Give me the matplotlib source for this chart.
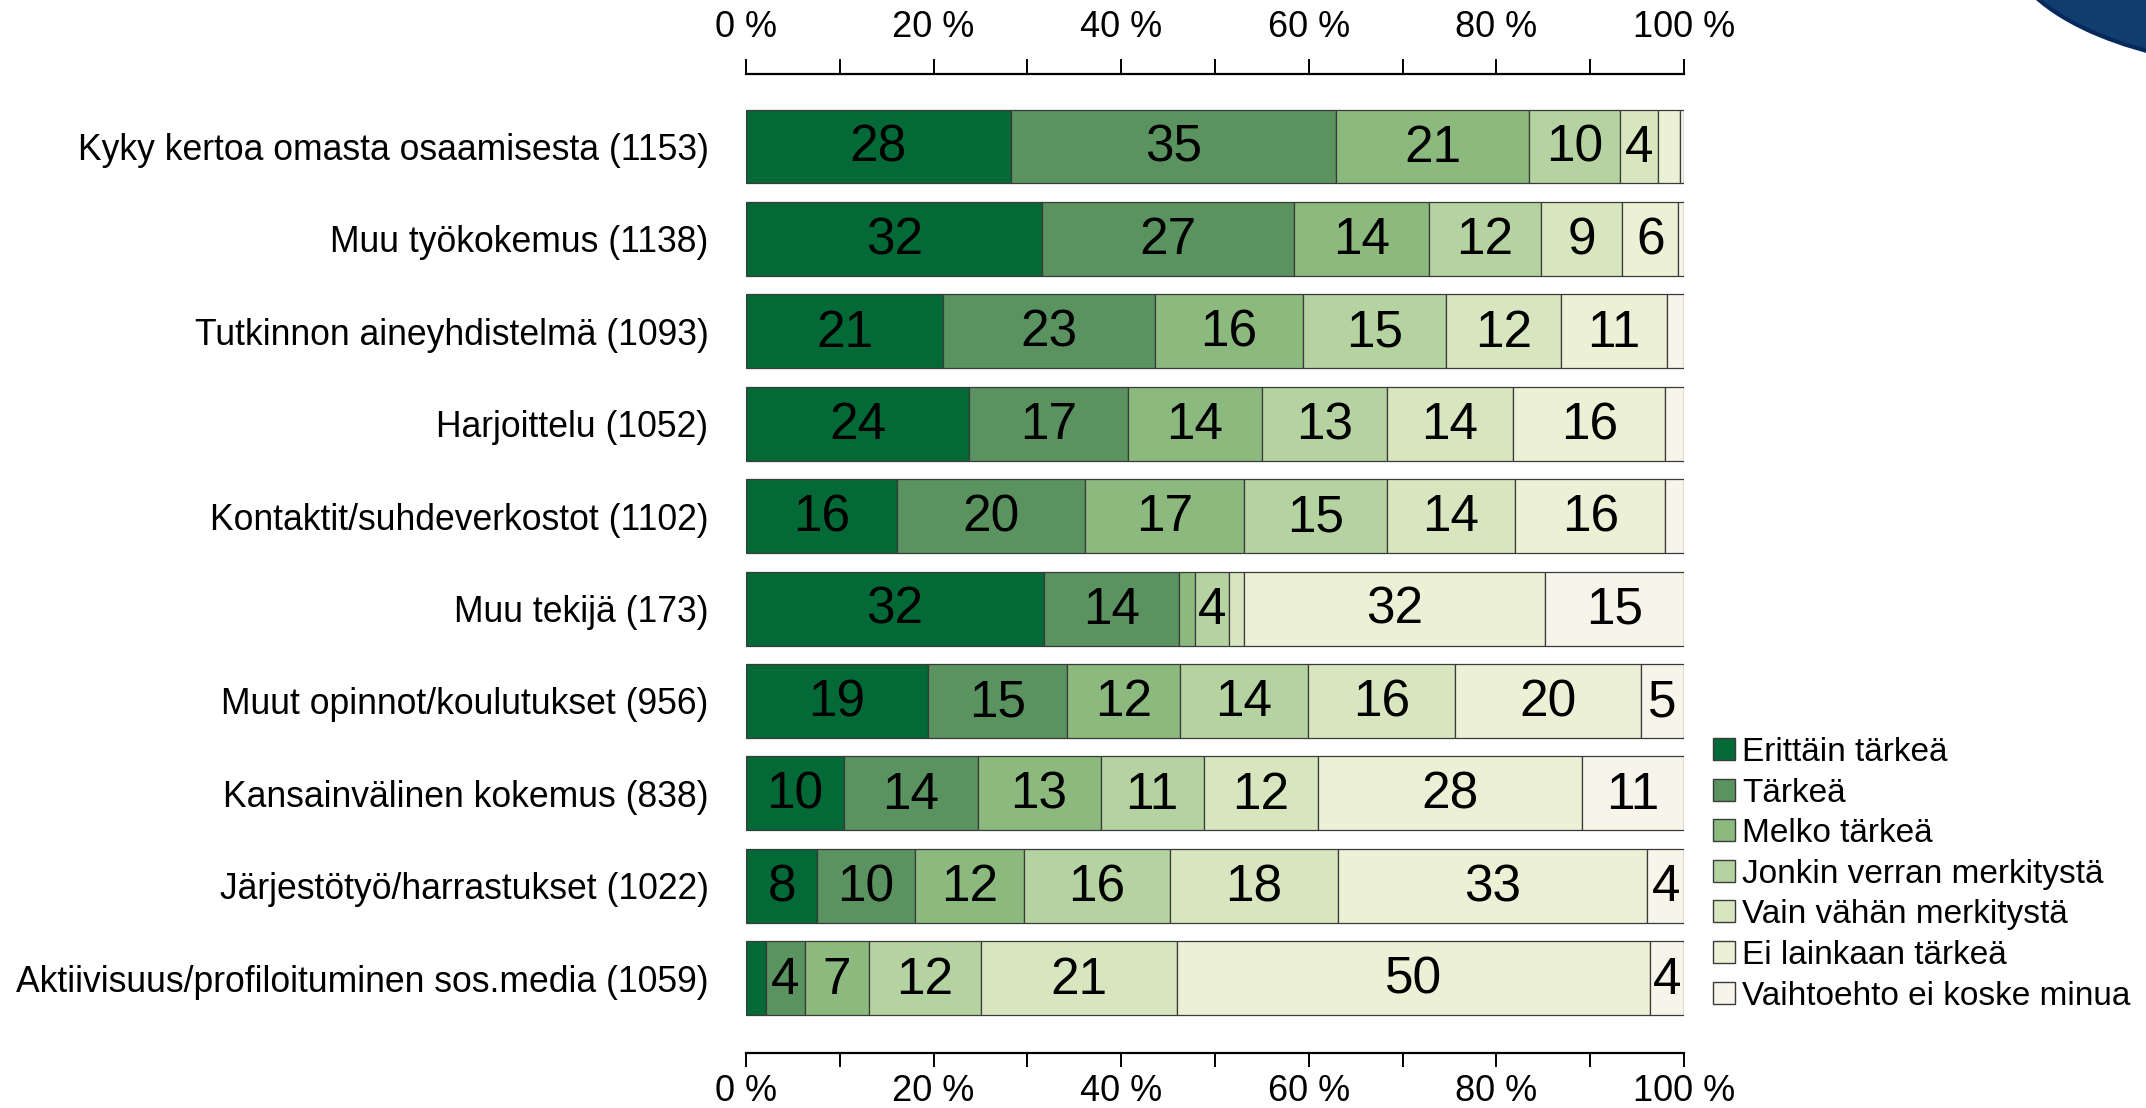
import matplotlib
matplotlib.use("Agg")
import matplotlib.pyplot as plt
from matplotlib.patches import Rectangle, Ellipse
import numpy as np

categories = [
    "Kyky kertoa omasta osaamisesta (1153)",
    "Muu työkokemus (1138)",
    "Tutkinnon aineyhdistelmä (1093)",
    "Harjoittelu (1052)",
    "Kontaktit/suhdeverkostot (1102)",
    "Muu tekijä (173)",
    "Muut opinnot/koulutukset (956)",
    "Kansainvälinen kokemus (838)",
    "Järjestötyö/harrastukset (1022)",
    "Aktiivisuus/profiloituminen sos.media (1059)",
]
series_names = [
    "Erittäin tärkeä",
    "Tärkeä",
    "Melko tärkeä",
    "Jonkin verran merkitystä",
    "Vain vähän merkitystä",
    "Ei lainkaan tärkeä",
    "Vaihtoehto ei koske minua",
]
erittain    = [28.2, 31.6, 21.0, 23.8, 16.1, 31.8, 19.4, 10.4, 7.6, 2.1]
tarkea      = [34.7, 26.8, 22.6, 16.9, 20.0, 14.4, 14.8, 14.3, 10.4, 4.2]
melko       = [20.6, 14.4, 15.8, 14.3, 17.0, 1.7, 12.1, 13.1, 11.6, 6.8]
jonkin      = [9.7, 12.0, 15.2, 13.3, 15.2, 3.6, 13.6, 11.0, 15.6, 11.9]
vain_vahan  = [4.0, 8.6, 12.3, 13.5, 13.7, 1.6, 15.7, 12.2, 17.9, 21.0]
ei_lainkaan = [2.4, 6.0, 11.3, 16.2, 16.0, 32.1, 19.8, 28.1, 33.0, 50.4]
ei_koske    = [0.4, 0.6, 1.8, 2.0, 2.0, 14.8, 4.6, 10.9, 3.9, 3.6]
tick_values = [0, 20, 40, 60, 80, 100]
tick_labels = ["0 %", "20 %", "40 %", "60 %", "80 %", "100 %"]

series = [erittain, tarkea, melko, jonkin, vain_vahan, ei_lainkaan, ei_koske]
colors = ["#036a37", "#5a935f", "#8cb97e", "#b5d3a0", "#d8e6bf", "#ecf1d6", "#f7f5ea"]

W, H = 2146, 1108
fig = plt.figure(figsize=(W / 100, H / 100), dpi=100)
fig.patch.set_facecolor("white")

ax_left, ax_right = 746 / W, 1684 / W
ax_top, ax_bot = 1 - 74 / H, 1 - 1053 / H
ax = fig.add_axes([ax_left, ax_bot, ax_right - ax_left, ax_top - ax_bot])

num_font = ["Liberation Sans", "DejaVu Sans"]
lab_font = ["Liberation Sans", "DejaVu Sans"]

y = np.arange(len(categories))
left = np.zeros(len(categories))
for vals, col in zip(series, colors):
    vals = np.array(vals)
    ax.barh(y, vals, left=left, height=0.8, color=col, edgecolor="#3a3a3a", linewidth=0.9)
    for yi, (l, v) in enumerate(zip(left, vals)):
        if v >= 3.5:
            ax.text(l + v / 2, yi + 0.02, f"{int(round(v))}", ha="center", va="center",
                    fontsize=37, family=num_font, color="black")
    left += vals

ax.set_xlim(0, 100)
ax.set_ylim(9 + 0.81, -0.785)
ax.set_yticks(y)
ax.set_yticklabels(categories, family=lab_font, fontsize=25.6)
ax.tick_params(axis="y", length=0, pad=27)

for s in ["left", "right"]:
    ax.spines[s].set_visible(False)
for s in ["top", "bottom"]:
    ax.spines[s].set_linewidth(1.6)
    ax.spines[s].set_bounds(0, 100)

# bottom axis
ax.set_xticks(tick_values)
ax.set_xticklabels(tick_labels, family=num_font, fontsize=26)
ax.set_xticks(range(10, 100, 20), minor=True)
ax.tick_params(axis="x", which="both", top=False, labeltop=False, bottom=True, labelbottom=True,
               direction="out", length=10, width=1.4)
ax.tick_params(axis="x", which="major", pad=5)

# top axis
ax2 = ax.twiny()
ax2.set_xlim(0, 100)
for s in ["left", "right", "bottom", "top"]:
    ax2.spines[s].set_visible(False)
ax2.set_xticks(tick_values)
ax2.set_xticklabels(tick_labels, family=num_font, fontsize=26)
ax2.set_xticks(range(10, 100, 20), minor=True)
ax2.tick_params(axis="x", which="both", top=True, labeltop=True, bottom=False, labelbottom=False,
                direction="out", length=11, width=1.4)
ax2.tick_params(axis="x", which="major", pad=10)

# legend
leg_y0 = 749
leg_dy = 40.6
for i, (name, col) in enumerate(zip(series_names, colors)):
    cy = leg_y0 + i * leg_dy
    fig.add_artist(Rectangle((1713 / W, 1 - (cy + 11) / H), 22 / W, 22 / H,
                             transform=fig.transFigure, facecolor=col,
                             edgecolor="#3a3a3a", linewidth=1.0))
    fig.text(1742 / W, 1 - cy / H, name, ha="left", va="center_baseline",
             fontsize=24, family=lab_font)

# decorative shape in top-right corner
ell = Ellipse((2300 / W, 1 + 60 / H), 2 * 294 / W, 2 * 130 / H, transform=fig.transFigure,
              facecolor="#0e3d6e", edgecolor="#06285a", linewidth=3, clip_on=False)
fig.add_artist(ell)

fig.savefig("out.png", dpi=100)
